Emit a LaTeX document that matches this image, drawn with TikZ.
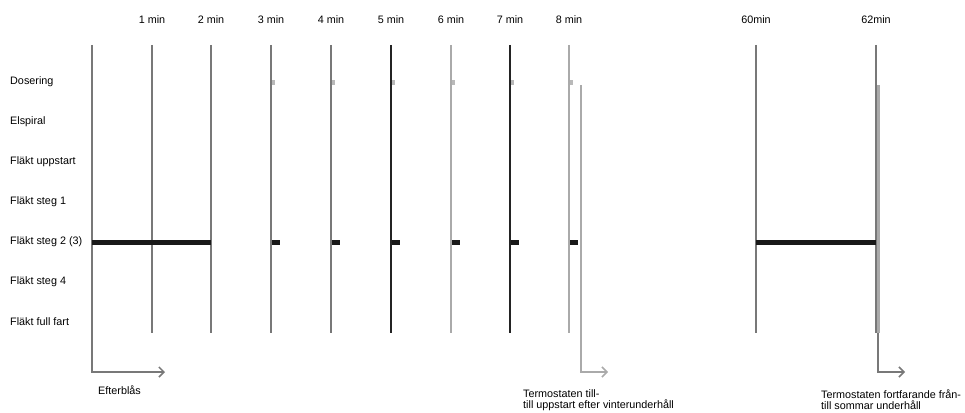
\documentclass[tikz,border=0pt]{standalone}
\usepackage{fontspec}
\setmainfont{Liberation Sans}
\usepackage{tikz}
\usetikzlibrary{arrows.meta, positioning, calc}

\begin{document}
\begin{tikzpicture}[x=1pt, y=-1pt]
  % Define colors
  \definecolor{midgray}{RGB}{120,120,120}
  \definecolor{darkline}{RGB}{35,35,35}
  \definecolor{lightline}{RGB}{170,170,170}
  \definecolor{markgray}{RGB}{185,185,185}
  \definecolor{bargray}{RGB}{25,25,25}

  \useasboundingbox (0,0) rectangle (965,412);

  % Row labels (one per signal)
  \foreach \i/\y/\txt in {
    1/82/Dosering,
    2/122/Elspiral,
    3/162/Fläkt uppstart,
    4/202/Fläkt steg 1,
    5/242/Fläkt steg 2 (3),
    6/282/Fläkt steg 4,
    7/322/Fläkt full fart
  } {
    \node[anchor=west, font=\fontsize{10.8}{11}\selectfont, inner sep=0pt] (row\i) at (10,\y) {\txt};
  }

  % Start line (runs down into the Efterblås arrow)
  \coordinate (top0) at (92,45);
  \coordinate (corner0) at (92,372);
  \coordinate (end0) at (165,372);
  \draw[midgray, line width=1.5pt, -{Straight Barb[length=5pt, width=10pt]}] (top0) -- (corner0) -- (end0);
  \node[anchor=west, font=\fontsize{10.8}{11}\selectfont, inner sep=0pt] (efter) at (98,390) {Efterblås};

  % Time lines with labels on top
  \foreach \t/\x/\col/\lbl in {
    1/152/midgray/1 min,
    2/211/midgray/2 min,
    3/271/midgray/3 min,
    4/331/midgray/4 min,
    5/391/darkline/5 min,
    6/451/lightline/6 min,
    7/510/darkline/7 min,
    8/569/lightline/8 min,
    60/756/midgray/60min,
    62/876/midgray/62min
  } {
    \coordinate (top\t) at (\x,45);
    \coordinate (bot\t) at (\x,333);
    \node[font=\fontsize{10.8}{11}\selectfont, anchor=base, inner sep=0pt] (lbl\t) at (\x,24) {\lbl};
    \draw[\col, line width=1.5pt] (top\t) -- (bot\t);
  }

  % Short pulses after each minute (dosering + fläkt steg 2)
  \foreach \t/\x in {3/271, 4/331, 5/391, 6/451, 7/510, 8/569} {
    \fill[markgray] (\x+1,80) rectangle (\x+4,85);
    \draw[bargray, line width=5pt] (\x+1,242) -- (\x+9,242);
  }

  % Long fan runs
  \draw[bargray, line width=5pt] (top0 |- row5) -- (top2 |- row5);
  \draw[bargray, line width=5pt] (top60 |- row5) -- (top62 |- row5);

  % Thermostat after 8 min
  \coordinate (thA) at (581,85);
  \coordinate (thAcorner) at (581,372);
  \coordinate (thAend) at (608,372);
  \draw[lightline, line width=1.5pt, -{Straight Barb[length=5pt, width=10pt]}] (thA) -- (thAcorner) -- (thAend);
  \node[anchor=north west, align=left, font=\fontsize{10.8}{11}\selectfont, inner sep=0pt] (thAtxt) at (523,389.5)
    {Termostaten till-\\till uppstart efter vinterunderhåll};

  % Thermostat after 62 min
  \coordinate (thB) at (878,85);
  \coordinate (thBmid) at (878,333);
  \coordinate (thBcorner) at (878,372);
  \coordinate (thBend) at (905,372);
  \draw[lightline, line width=3pt] (thB) -- (thBmid);
  \draw[midgray, line width=1.5pt, -{Straight Barb[length=5pt, width=10pt]}] (thBmid) -- (thBcorner) -- (thBend);
  \node[anchor=north west, align=left, font=\fontsize{10.8}{11}\selectfont, inner sep=0pt] (thBtxt) at (821,389.5)
    {Termostaten fortfarande från-\\till sommar underhåll};

\end{tikzpicture}
\end{document}
